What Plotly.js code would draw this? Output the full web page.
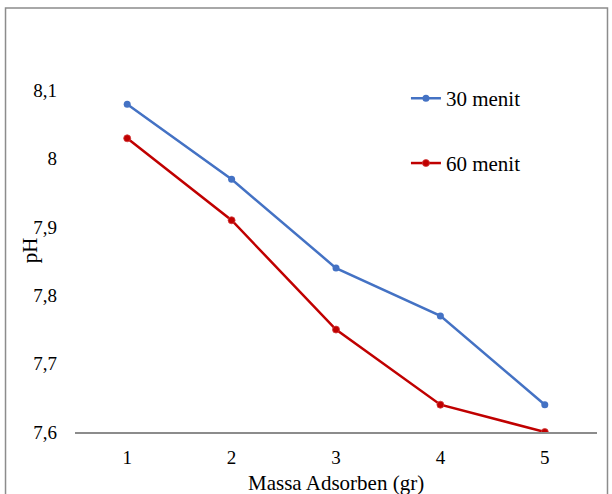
<!DOCTYPE html>
<html>
<head>
<meta charset="utf-8">
<script src="https://cdn.plot.ly/plotly-3.0.1.min.js"></script>
<style>html,body{margin:0;padding:0;background:#fff;}#chart{width:612px;height:494px;}</style>
</head>
<body>
<div id="chart"></div>
<script>
var massa = [1, 2, 3, 4, 5];
var ph30 = [8.08, 7.97, 7.84, 7.77, 7.64];
var ph60 = [8.03, 7.91, 7.75, 7.64, 7.60];
var yTicks = [7.6, 7.7, 7.8, 7.9, 8.0, 8.1];
var seriesNames = ['30 menit', '60 menit'];
var xTitle = 'Massa Adsorben (gr)';
var yTitle = 'pH';

var fam = '"Liberation Serif", "Times New Roman", serif';
var tickFont = {family: fam, size: 19, color: '#000'};
var titleFont = {family: fam, size: 21, color: '#000'};
var legendFont = {family: fam, size: 21, color: '#000'};

var traces = [
  {x: massa, y: ph30, name: seriesNames[0], type: 'scatter', mode: 'lines+markers',
   line: {color: '#4472C4', width: 2.5}, marker: {color: '#4472C4', size: 7}, legend: 'legend'},
  {x: massa, y: ph60, name: seriesNames[1], type: 'scatter', mode: 'lines+markers',
   line: {color: '#C00000', width: 2.5}, marker: {color: '#C00000', size: 7, line: {color: 'rgba(210,60,60,0.8)', width: 1}}, legend: 'legend2'}
];

var layout = {
  width: 612, height: 494,
  margin: {l: 75, r: 15, t: 69.5, b: 62},
  paper_bgcolor: '#fff', plot_bgcolor: '#fff',
  font: tickFont,
  separators: ', ',
  showlegend: true,
  xaxis: {
    range: [0.5, 5.5], tickvals: massa, ticktext: massa.map(String),
    showgrid: false, zeroline: false, showline: true, linecolor: '#8c8c8c', linewidth: 1.5,
    ticks: '', ticklabelstandoff: 8, tickfont: tickFont
  },
  yaxis: {
    range: [7.6, 8.13], tickvals: yTicks,
    showgrid: false, zeroline: false, showline: false,
    ticks: '', ticklabelstandoff: 17, tickfont: tickFont
  },
  legend: {x: 0.634, xanchor: 'left', y: 0.921, yanchor: 'middle', font: legendFont, bgcolor: 'rgba(0,0,0,0)'},
  legend2: {x: 0.634, xanchor: 'left', y: 0.742, yanchor: 'middle', font: legendFont, bgcolor: 'rgba(0,0,0,0)'},
  annotations: [
    {text: xTitle, xref: 'paper', yref: 'paper', x: 0.5, y: -0.1407, xanchor: 'center', yanchor: 'middle',
     showarrow: false, font: titleFont},
    {text: yTitle, xref: 'paper', yref: 'paper', x: -0.0862, y: 0.502, xanchor: 'center', yanchor: 'middle',
     textangle: -90, showarrow: false, font: titleFont}
  ],
  shapes: [
    {type: 'rect', xref: 'paper', yref: 'paper', x0: -0.1331, x1: 1.0201, y0: -0.19, y1: 1.171,
     line: {color: '#8c8c8c', width: 1.5}, fillcolor: 'rgba(0,0,0,0)', layer: 'below'}
  ]
};

Plotly.newPlot('chart', traces, layout, {displayModeBar: false, staticPlot: true});
</script>
</body>
</html>
